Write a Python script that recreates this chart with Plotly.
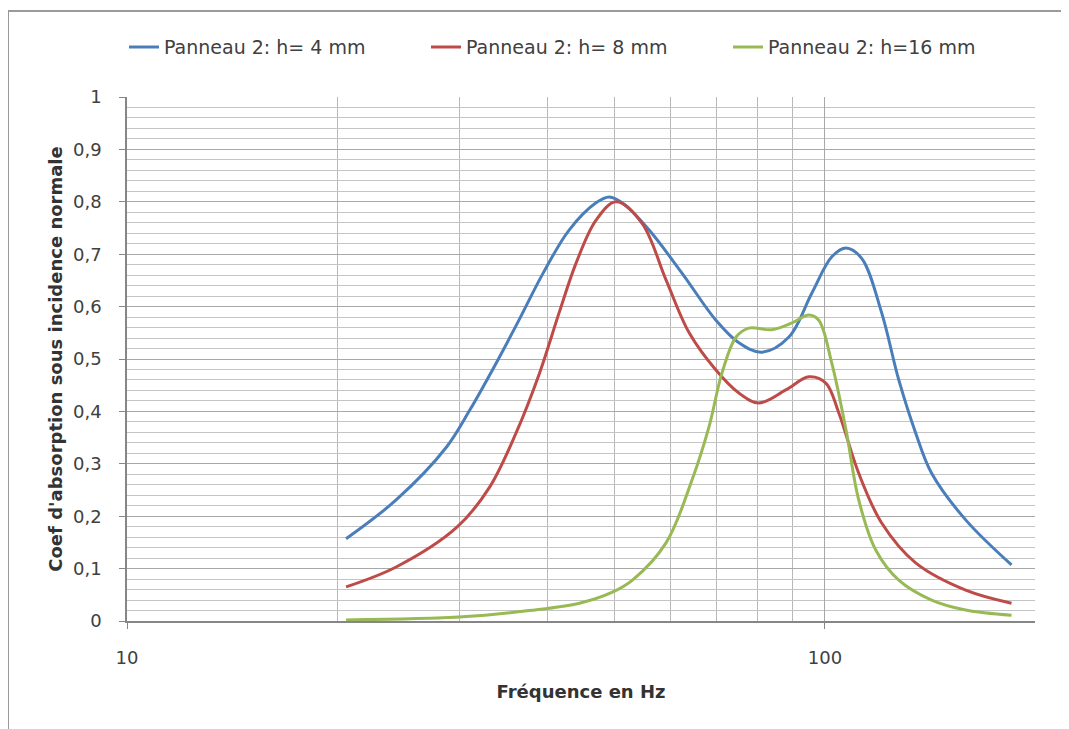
import plotly.graph_objects as go

# Frequencies (Hz) and absorption coefficients
f_h4 = [20.6, 24.3, 28.7, 31.0, 33.8, 36.5, 39.4, 43.0, 47.0, 49.1, 51.6, 56.0, 62.4, 69.8, 75.3, 81.2,
        88.8, 95.8, 102.3, 107.2, 112.9, 120.6, 127.6, 134.9, 142.2, 159.1, 185.1]
h4 = [0.157, 0.231, 0.332, 0.403, 0.492, 0.576, 0.662, 0.746, 0.798, 0.809, 0.795, 0.746, 0.664, 0.574,
      0.531, 0.513, 0.542, 0.626, 0.695, 0.712, 0.692, 0.588, 0.460, 0.359, 0.282, 0.193, 0.107]

f_h8 = [20.6, 24.3, 29.7, 33.1, 36.1, 39.0, 41.6, 44.0, 47.0, 50.2, 54.7, 59.2, 63.9, 69.8, 75.3, 80.4,
        87.9, 94.9, 100.3, 104.7, 111.8, 120.6, 134.9, 159.1, 185.1]
h8 = [0.065, 0.103, 0.179, 0.256, 0.359, 0.473, 0.588, 0.683, 0.765, 0.800, 0.759, 0.651, 0.550, 0.479,
      0.435, 0.416, 0.441, 0.466, 0.454, 0.397, 0.282, 0.187, 0.111, 0.059, 0.034]

f_h16 = [20.6, 30.3, 37.7, 44.5, 49.6, 53.0, 59.2, 64.5, 68.2, 71.2, 74.6, 77.8, 84.0, 89.7, 94.9,
         98.0, 102.3, 107.2, 111.8, 118.3, 127.6, 142.2, 159.1, 185.1]
h16 = [0.002, 0.008, 0.020, 0.034, 0.055, 0.078, 0.149, 0.269, 0.370, 0.473, 0.542, 0.559, 0.556,
       0.569, 0.584, 0.574, 0.492, 0.365, 0.231, 0.135, 0.078, 0.040, 0.021, 0.011]

names = ["Panneau 2: h= 4 mm", "Panneau 2: h= 8 mm", "Panneau 2: h=16 mm"]
colors = ["#4A7EBB", "#BE4B48", "#98B954"]

x_ticks = [10, 100]
x_minor = [20, 30, 40, 50, 60, 70, 80, 90, 200]

fig = go.Figure()
for name, xs, ys, c in zip(names, [f_h4, f_h8, f_h16], [h4, h8, h16], colors):
    fig.add_trace(go.Scatter(x=xs, y=ys, mode="lines", name=name,
                             line=dict(color=c, width=3, shape="spline", smoothing=1.0)))

font_fam = "DejaVu Sans, Verdana, sans-serif"

W, H = 1061, 721
L, T, R, B = 119, 89, 34, 108
pw, ph = W - L - R, H - T - B

fig.update_layout(
    width=W, height=H,
    margin=dict(l=L, r=R, t=T, b=B),
    paper_bgcolor="white", plot_bgcolor="white",
    separators=", ",
    font=dict(family=font_fam, size=16, color="#404040"),
    showlegend=True,
    legend=dict(orientation="h", x=-0.0033, y=1.095, xanchor="left", yanchor="middle",
                entrywidth=257, entrywidthmode="pixels",
                font=dict(size=19, color="#404040", family=font_fam)),
    xaxis=dict(type="log", range=[1, 2.30103],
               tickvals=x_ticks, ticktext=["10", "100"],
               ticks="outside", ticklen=6, tickcolor="#868686",
               ticklabelstandoff=14,
               tickfont=dict(size=18, color="#404040"),
               showgrid=True, gridcolor="#a8a8a8", gridwidth=1,
               minor=dict(tickvals=x_minor, showgrid=True, gridcolor="#b8b8b8", gridwidth=1, ticks=""),
               showline=True, linecolor="#868686", linewidth=1.5,
               zeroline=False,
               title=dict(text="<b>Fréquence en Hz</b>", font=dict(size=18, color="#333333"), standoff=18)),
    yaxis=dict(range=[0, 1], dtick=0.1, tick0=0,
               ticks="outside", ticklen=6, tickcolor="#868686",
               ticklabelstandoff=14,
               tickfont=dict(size=18, color="#404040"),
               showgrid=True, gridcolor="#a8a8a8", gridwidth=1,
               minor=dict(dtick=0.02, showgrid=True, gridcolor="#c4c4c4", gridwidth=1, ticks=""),
               showline=True, linecolor="#868686", linewidth=1.5,
               zeroline=False,
               title=dict(text="<b>Coef d'absorption sous incidence normale</b>",
                          font=dict(size=18, color="#333333"), standoff=6)),
)

# outer frame (top and left edges)
ytop = (H - B - 3) / ph
xleft = (0 - L) / pw
fig.add_shape(type="line", xref="paper", yref="paper",
              x0=xleft, x1=(W - L) / pw, y0=ytop, y1=ytop,
              line=dict(color="#9a9a9a", width=2))
fig.add_shape(type="line", xref="paper", yref="paper",
              x0=xleft, x1=xleft, y0=ytop, y1=-B / ph,
              line=dict(color="#9a9a9a", width=2))

fig.write_html("out.html")
